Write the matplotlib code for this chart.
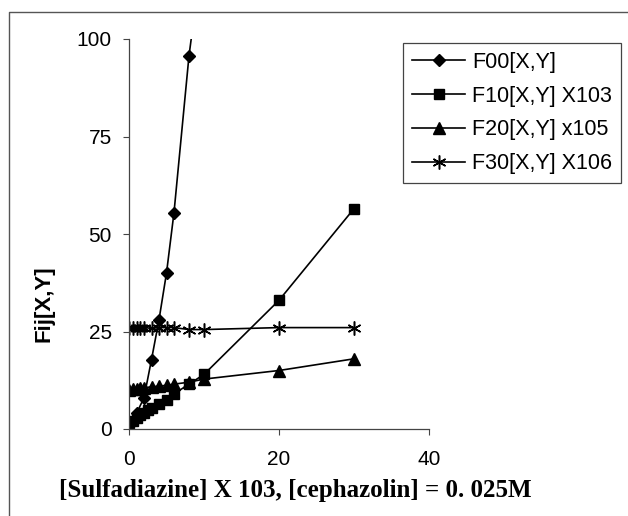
import numpy as np
import matplotlib.pyplot as plt
from matplotlib.lines import Line2D

# data
x00 = [0, 0.5, 1, 2, 3, 4, 5, 6, 8, 10]
f00 = [1.0, 2.0, 4.0, 8.0, 17.8, 28.0, 40.0, 55.5, 95.7, 125.0]

x10 = [0, 0.5, 1, 1.5, 2, 2.5, 3, 4, 5, 6, 8, 10, 20, 30]
f10 = [1.5, 2.0, 2.8, 3.5, 4.2, 5.0, 5.5, 6.5, 7.5, 9.0, 11.5, 14.0, 33.0, 56.5]

x20 = [0, 0.5, 1, 1.5, 2, 3, 4, 5, 6, 8, 10, 20, 30]
f20 = [10.0, 10.2, 10.3, 10.5, 10.6, 10.8, 11.0, 11.2, 11.5, 12.0, 12.8, 15.0, 18.0]

x30 = [0, 0.5, 1, 1.5, 2, 3, 4, 5, 6, 8, 10, 20, 30]
f30 = [26.0, 26.0, 26.0, 26.0, 26.0, 25.8, 26.0, 26.0, 26.0, 25.5, 25.5, 26.0, 26.0]

labels = ["F00[X,Y]", "F10[X,Y] X103", "F20[X,Y] x105", "F30[X,Y] X106"]

plt.rcParams['font.family'] = ['Liberation Sans', 'DejaVu Sans']

W, H = 628, 516
fig = plt.figure(figsize=(W / 100, H / 100), dpi=100)
fig.patch.set_facecolor('white')

# chart-area border (top and left edges visible in the reference)
fig.lines.append(Line2D([9 / W, 9 / W, 1.0], [0.0, 1 - 12 / H, 1 - 12 / H],
                        transform=fig.transFigure, color='#555555', linewidth=1.0))

ax = fig.add_axes([129 / W, 1 - 429 / H, 300 / W, 390 / H])
ax.set_facecolor('white')

lw = 1.2
ax.plot(x00, f00, '-', color='black', marker='D', markersize=6, linewidth=lw, label=labels[0])
ax.plot(x10, f10, '-', color='black', marker='s', markersize=7.5, linewidth=lw, label=labels[1])
ax.plot(x20, f20, '-', color='black', marker='^', markersize=8, linewidth=lw, label=labels[2])
ax.plot(x30, f30, '-', color='black', marker=(6, 2, 0), markersize=10, markeredgewidth=1.1,
        linewidth=lw, label=labels[3])

ax.set_xlim(0, 40)
ax.set_ylim(0, 100)
ax.set_xticks([0, 20, 40])
ax.set_yticks([0, 25, 50, 75, 100])
ax.spines['top'].set_visible(False)
ax.spines['right'].set_visible(False)
for s in ('left', 'bottom'):
    ax.spines[s].set_color('#444444')
    ax.spines[s].set_linewidth(0.9)
ax.tick_params(axis='x', direction='out', length=4, labelsize=15, pad=11, color='#444444')
ax.tick_params(axis='y', direction='out', length=4.3, labelsize=15, pad=8, color='#444444')

fig.text(44 / W, 1 - 304 / H, "Fij[X,Y]", rotation=90, ha='center', va='center',
         fontsize=16, fontweight='bold')
fig.text(295 / W, 1 - 491 / H, "[Sulfadiazine] X 103, [cephazolin] = 0. 025M",
         ha='center', va='center', fontsize=18, fontweight='bold',
         family=['Liberation Serif'])

leg = fig.legend(loc='upper left', bbox_to_anchor=(403 / W, 1 - 43 / H), borderaxespad=0,
                 fontsize=15.5, handlelength=2.5, labelspacing=0.6, borderpad=0.4,
                 handletextpad=0.3, fancybox=False, edgecolor='#444444', framealpha=1)
leg.get_frame().set_linewidth(0.9)

fig.savefig("out.png", dpi=100)
